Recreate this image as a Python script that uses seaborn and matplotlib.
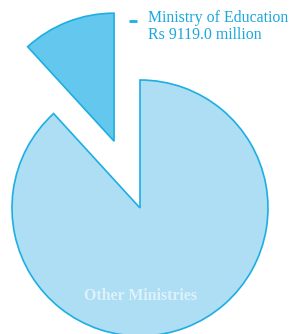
import matplotlib
matplotlib.use('Agg')
import matplotlib.pyplot as plt
import seaborn as sns

# data
labels = ['Ministry of Education', 'Other Ministries']
values = [9119.0, 68200.0]
explode_frac = [0.56, 0.0]

sns.set_theme(style='white')
plt.rcParams['font.family'] = ['Liberation Serif', 'DejaVu Serif']

colors = sns.color_palette(['#63C7EE', '#AEDEF4'])
edge = '#1DAEE2'
radius = 128

fig = plt.figure(figsize=(2.91, 3.34), dpi=100)
ax = fig.add_axes([0, 0, 1, 1])

# explode is in data units, so scale by radius
ax.pie(values, explode=[e * radius for e in explode_frac], colors=colors,
       startangle=90, counterclock=True,
       center=(140, 126), radius=radius,
       wedgeprops={'edgecolor': edge, 'linewidth': 1.2})

ax.set_xlim(0, 291)
ax.set_ylim(0, 334)
ax.set_aspect('equal')
ax.axis('off')

# legend-like label at top right
ax.plot([129, 137], [313, 313], color=edge, lw=2, solid_capstyle='butt')
ax.text(148, 307.5, labels[0] + '\nRs ' + f'{values[0]:.1f}' + ' million',
        color='#1AA8DC', fontsize=11.4, va='center', ha='left', linespacing=1.1)

ax.text(141, 38, labels[1], color='#DDF1FB', fontsize=11.4, fontweight='bold',
        ha='center', va='center')

fig.savefig('out.png', dpi=100)
